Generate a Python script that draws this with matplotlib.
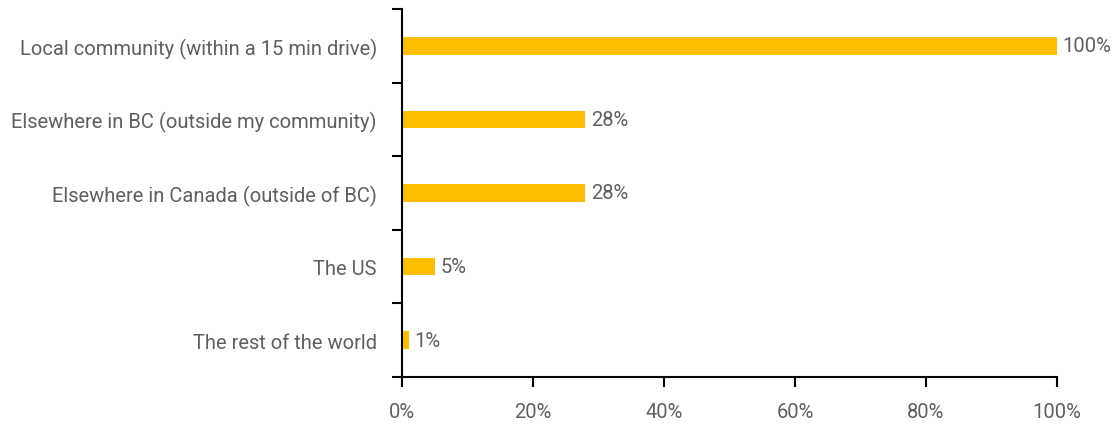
import matplotlib
matplotlib.use('Agg')
import matplotlib.pyplot as plt
from matplotlib.ticker import FuncFormatter

# where respondents' customers come from
places = ['Local community (within a 15 min drive)',
          'Elsewhere in BC (outside my community)',
          'Elsewhere in Canada (outside of BC)',
          'The US',
          'The rest of the world']
shares = [100, 28, 28, 5, 1]

bar_color = '#FBBF00'
text_color = '#5f5f5f'

plt.rcParams['font.family'] = ['Roboto', 'DejaVu Sans']

fig = plt.figure(figsize=(11.12, 4.27), dpi=100)
ax = fig.add_axes([0.3615, 0.1148, 0.589, 0.8618])

ypos = list(range(len(places)))
ax.barh(ypos, shares, height=0.24, color=bar_color)

for y, v in zip(ypos, shares):
    ax.annotate(f'{v}%', xy=(v, y), xytext=(4, 0), textcoords='offset points',
                va='center', ha='left', fontsize=14.5, color=text_color)

ax.set_xlim(0, 100)
ax.set_ylim(len(places) - 0.5, -0.5)
ax.set_xticks([0, 20, 40, 60, 80, 100])
ax.xaxis.set_major_formatter(FuncFormatter(lambda x, p: f'{x:.0f}%'))

# y ticks sit on the category boundaries, labels in the middle
ax.set_yticks([i - 0.5 for i in range(len(places) + 1)])
ax.set_yticklabels([])
ax.set_yticks(ypos, minor=True)
ax.set_yticklabels(places, minor=True)
ax.tick_params(axis='y', which='minor', length=0, pad=18, labelsize=14.5, labelcolor=text_color)
ax.tick_params(axis='y', which='major', length=7, width=1.5, direction='out')
ax.tick_params(axis='x', length=7, width=1.5, pad=11, labelsize=14.5, labelcolor=text_color)

for s in ['top', 'right']:
    ax.spines[s].set_visible(False)
for s in ['left', 'bottom']:
    ax.spines[s].set_linewidth(1.5)

fig.savefig('out.png', dpi=100)
